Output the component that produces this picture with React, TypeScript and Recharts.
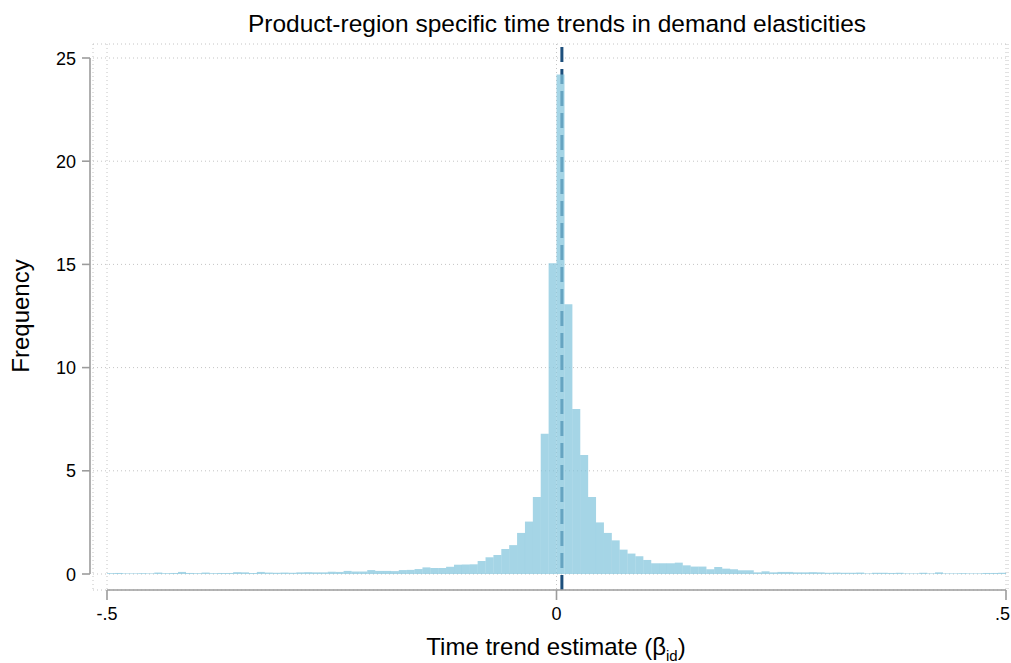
import React from 'react';
import { ComposedChart, Bar, XAxis, YAxis, CartesianGrid, ReferenceLine } from 'recharts';

const TITLE = 'Product-region specific time trends in demand elasticities';
const Y_LABEL = 'Frequency';

// histogram: 114 equal bins over [-.5, .5], 57 each side of zero
const X_RANGE: [number, number] = [-0.5, 0.5];
const BIN_COUNT = 114;

// bins from -.5 up to 0
const FREQ_NEG = [
  0.04, 0.05, 0.03, 0.03, 0.04, 0.03, 0.07, 0.04, 0.05, 0.1,
  0.05, 0.04, 0.07, 0.04, 0.05, 0.05, 0.09, 0.08, 0.05, 0.1,
  0.07, 0.06, 0.07, 0.06, 0.08, 0.09, 0.08, 0.08, 0.11, 0.1,
  0.15, 0.12, 0.12, 0.19, 0.15, 0.15, 0.14, 0.19, 0.2, 0.24,
  0.32, 0.29, 0.29, 0.35, 0.45, 0.46, 0.47, 0.63, 0.81, 0.92,
  1.21, 1.4, 1.99, 2.54, 3.73, 6.79, 15.05,
];
// bins from 0 up to .5
const FREQ_POS = [
  24.2, 13.07, 8.0, 5.77, 3.73, 2.5, 1.99, 1.63, 1.18, 0.99,
  0.86, 0.68, 0.52, 0.52, 0.52, 0.55, 0.42, 0.36, 0.36, 0.23,
  0.34, 0.26, 0.23, 0.18, 0.18, 0.08, 0.13, 0.08, 0.1, 0.1,
  0.08, 0.08, 0.09, 0.08, 0.06, 0.07, 0.06, 0.06, 0.07, 0.03,
  0.06, 0.06, 0.05, 0.06, 0.03, 0.03, 0.06, 0.03, 0.08, 0.03,
  0.03, 0.04, 0.03, 0.03, 0.05, 0.05, 0.06,
];

const X_TICKS = [-0.5, 0, 0.5];
const X_TICK_LABELS = ['-.5', '0', '.5'];
const Y_TICKS = [0, 5, 10, 15, 20, 25];
const Y_DOMAIN: [number, number] = [0, 25];
const TREND_LINE = 0.006;

const FONT = '"Liberation Sans", Arial, Helvetica, sans-serif';
const BAR_COLOR = '#82c5dc';
const LINE_COLOR = '#1d4f7c';
const AXIS_COLOR = '#9c9c9c';
const GRID_COLOR = '#c4c4c4';

// layout (px)
const W = 1011;
const H = 663;
const PLOT_LEFT = 93;
const PLOT_RIGHT = 1008;
const PLOT_TOP = 44;
const PLOT_BOTTOM = 590;
const X_PAD = { left: 14, right: 2 };
const Y_PAD = { top: 14, bottom: 16 };
const X_AXIS_H = 40;
const Y_AXIS_W = 60;
const Y_AXIS_GAP = 17; // y axis line sits this far left of x = -.5

const pxPerX = (PLOT_RIGHT - PLOT_LEFT - X_PAD.left - X_PAD.right) / (X_RANGE[1] - X_RANGE[0]);
const pxPerY = (PLOT_BOTTOM - PLOT_TOP - Y_PAD.top - Y_PAD.bottom) / (Y_DOMAIN[1] - Y_DOMAIN[0]);
const yAxisLineX = X_RANGE[0] - Y_AXIS_GAP / pxPerX;
const xAxisLineY = Y_DOMAIN[0] - Y_PAD.bottom / pxPerY;

const binWidth = (X_RANGE[1] - X_RANGE[0]) / BIN_COUNT;
const bins = [...FREQ_NEG, ...FREQ_POS].map((freq, i) => ({
  mid: X_RANGE[0] + (i + 0.5) * binWidth,
  freq,
}));

const XTick = (props: any) => {
  const { x, y, payload } = props;
  const idx = X_TICKS.indexOf(payload.value);
  const last = idx === X_TICKS.length - 1;
  // the last label would run off the right edge, so it is right-aligned there
  return (
    <g>
      <line x1={x} x2={x} y1={y} y2={y + 10} stroke={AXIS_COLOR} strokeWidth={1.6} />
      <text
        x={last ? W - 1 : x}
        y={y + 30}
        textAnchor={last ? 'end' : 'middle'}
        fontSize={18}
        fontFamily={FONT}
        fill="#000"
      >
        {idx >= 0 ? X_TICK_LABELS[idx] : payload.value}
      </text>
    </g>
  );
};

const YTick = (props: any) => {
  const { x, y, payload } = props;
  const ax = x + X_PAD.left - Y_AXIS_GAP;
  return (
    <g>
      <line x1={ax - 8} x2={ax} y1={y} y2={y} stroke={AXIS_COLOR} strokeWidth={1.6} />
      <text x={ax - 14} y={y + 6.5} textAnchor="end" fontSize={18} fontFamily={FONT} fill="#000">
        {payload.value}
      </text>
    </g>
  );
};

export default function App() {
  return (
    <div style={{ position: 'absolute', left: 0, top: 0, width: W, height: H, background: '#fff' }}>
      <ComposedChart
        width={W}
        height={H}
        data={bins}
        margin={{
          top: PLOT_TOP,
          right: W - PLOT_RIGHT,
          bottom: H - PLOT_BOTTOM - X_AXIS_H,
          left: PLOT_LEFT - Y_AXIS_W,
        }}
        barCategoryGap={0}
        barGap={0}
      >
        <CartesianGrid stroke={GRID_COLOR} strokeDasharray="1 3" strokeWidth={1} />
        <XAxis
          dataKey="mid"
          type="number"
          domain={X_RANGE}
          ticks={X_TICKS}
          padding={X_PAD}
          height={X_AXIS_H}
          axisLine={false}
          tickLine={false}
          tickSize={0}
          tickMargin={0}
          tick={XTick}
          interval={0}
        />
        <YAxis
          type="number"
          domain={Y_DOMAIN}
          ticks={Y_TICKS}
          padding={Y_PAD}
          width={Y_AXIS_W}
          axisLine={false}
          tickLine={false}
          tickSize={0}
          tickMargin={0}
          tick={YTick}
          interval={0}
        />
        <ReferenceLine
          x={TREND_LINE}
          stroke={LINE_COLOR}
          strokeWidth={3}
          strokeDasharray="15 7"
          zIndex={250}
        />
        <Bar
          dataKey="freq"
          fill={BAR_COLOR}
          fillOpacity={0.72}
          isAnimationActive={false}
        />
        <ReferenceLine
          segment={[{ x: yAxisLineX, y: Y_DOMAIN[0] }, { x: yAxisLineX, y: Y_DOMAIN[1] }]}
          ifOverflow="visible"
          stroke={AXIS_COLOR}
          strokeWidth={1.6}
        />
        <ReferenceLine
          segment={[{ x: X_RANGE[0], y: xAxisLineY }, { x: X_RANGE[1], y: xAxisLineY }]}
          ifOverflow="visible"
          stroke={AXIS_COLOR}
          strokeWidth={1.6}
        />
      </ComposedChart>
      <svg
        width={W}
        height={H}
        style={{ position: 'absolute', left: 0, top: 0, pointerEvents: 'none' }}
        fontFamily={FONT}
      >
        <text x={557} y={32} textAnchor="middle" fontSize={24.5} fill="#000">
          {TITLE}
        </text>
        <text x={29} y={316} textAnchor="middle" fontSize={24} fill="#000" transform="rotate(-90 29 316)">
          {Y_LABEL}
        </text>
        <text x={556} y={655} textAnchor="middle" fontSize={24} fill="#000">
          Time trend estimate (β<tspan fontSize={15} dy={6}>id</tspan><tspan dy={-6}>)</tspan>
        </text>
      </svg>
    </div>
  );
}
